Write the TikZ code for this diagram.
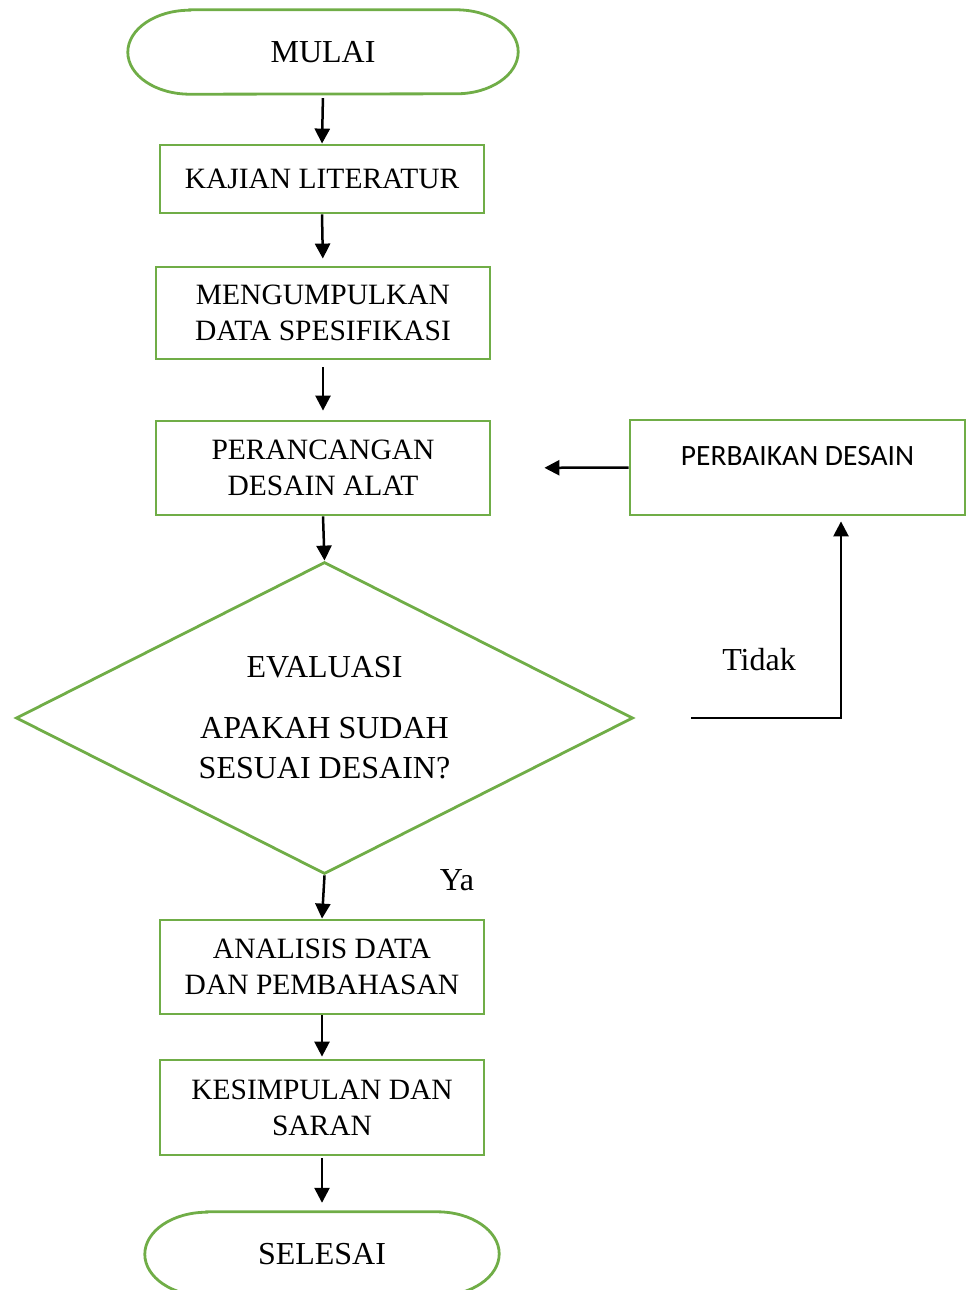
\documentclass[tikz,border=0pt]{standalone}
\usepackage{fontspec}
\setmainfont{Liberation Serif}
\setsansfont{Carlito}
\usetikzlibrary{arrows.meta,shapes.geometric}
\definecolor{boxgreen}{HTML}{70AD47}

\def\rx{62}
\def\ry{42}
\newcommand\drawterminal[1]{%
  \draw[box] ([xshift=\rx pt]#1.north west) -- ([xshift=-\rx pt]#1.north east)
    arc[start angle=90, end angle=-90, x radius=\rx, y radius=\ry]
    -- ([xshift=\rx pt]#1.south west)
    arc[start angle=270, end angle=90, x radius=\rx, y radius=\ry] -- cycle;}

\begin{document}
\begin{tikzpicture}[x=1pt, y=1pt,
    nodes = {font=\fontsize{29.5}{36}\selectfont, align=center, inner sep=0pt},
    bigtext/.style = {font=\fontsize{32}{40}\selectfont},
    box/.style = {draw=boxgreen, line width=2.8pt},
    decision/.style = {box, bigtext, shape=diamond, aspect=2},
    flow/.style = {-{Triangle[length=15pt,width=15pt]}, line width=2.5pt}]
  \useasboundingbox (0,0) rectangle (973,-1290);
  \clip (0,0) rectangle (973,-1290);

  % Main column
  \node[bigtext, minimum width=390, minimum height=84] (mulai) at (323,-52) {MULAI};
  \node[box, minimum width=324, minimum height=68] (kajian) at (322,-179) {KAJIAN LITERATUR};
  \node[box, minimum width=334, minimum height=92] (mengumpulkan) at (323,-313)
    {MENGUMPULKAN\\DATA SPESIFIKASI};
  \node[box, minimum width=334, minimum height=94] (perancangan) at (323,-468)
    {PERANCANGAN\\DESAIN ALAT};
  \node[decision, minimum width=617, minimum height=312] (evaluasi) at (324.5,-718)
    {EVALUASI\\[21pt]APAKAH SUDAH\\SESUAI DESAIN?};
  \node[box, minimum width=324, minimum height=94] (analisis) at (322,-967)
    {ANALISIS DATA\\DAN PEMBAHASAN};
  \node[box, minimum width=324, minimum height=95] (kesimpulan) at (322,-1107.5)
    {KESIMPULAN DAN\\SARAN};
  \node[bigtext, minimum width=354, minimum height=84] (selesai) at (322,-1254) {SELESAI};
  \drawterminal{mulai}
  \drawterminal{selesai}

  % Loop back
  \node[box, minimum width=335, minimum height=95] (perbaikan) at (797.5,-467.5)
    {\sffamily\raisebox{11pt}[\height][\depth]{PERBAIKAN DESAIN}};
  \node[bigtext] (tidak) at (759,-660) {Tidak};
  \node[bigtext] (ya) at (457,-880) {Ya};

  % Connectors
  \foreach \from/\to/\gapa/\gapb in {
      mulai/kajian/4/0,
      kajian/mengumpulkan/0/7,
      mengumpulkan/perancangan/7/9,
      perancangan/evaluasi/0/0,
      evaluasi/analisis/0/0,
      analisis/kesimpulan/0/2,
      kesimpulan/selesai/2/9
    } {
      \draw[flow, shorten <=\gapa pt, shorten >=\gapb pt] (\from.south) -- (\to.north);
    };
  \draw[flow, shorten >=53pt] (perbaikan.west) -- (perancangan.east);
  \draw[flow, shorten >=5pt] ([xshift=57pt]evaluasi.east) -| ([xshift=43.5pt]perbaikan.south);
\end{tikzpicture}
\end{document}
